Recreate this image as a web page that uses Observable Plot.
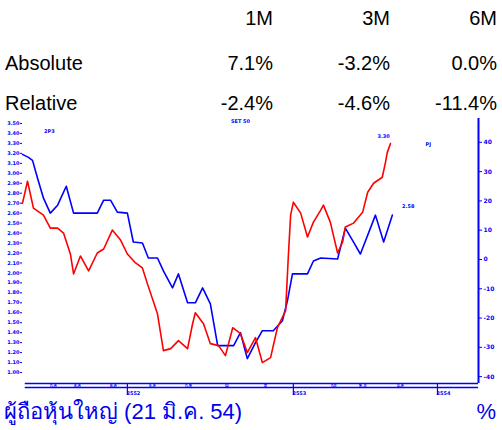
<!DOCTYPE html>
<html><head><meta charset="utf-8">
<script src="https://cdn.jsdelivr.net/npm/d3@7"></script>
<script src="https://cdn.jsdelivr.net/npm/@observablehq/plot@0.6"></script>
<style>
body{margin:0;background:#fff;width:502px;height:430px;overflow:hidden;font-family:"Liberation Sans",Arial,sans-serif;}
#head{position:relative;height:115px;}
#head div{position:absolute;font-size:20px;line-height:22px;color:#000;white-space:nowrap;}
.r{text-align:right;}
#cap{position:relative;height:30px;color:#0000ee;font-size:22px;}
#cap span{position:absolute;top:-1px;line-height:26px;}
</style></head>
<body>
<div id="head"></div>
<div id="chart"></div>
<div id="cap"><span id="capL" style="left:4px"></span><span id="capR" style="right:6px"></span></div>
<script>
// ---- table data ----
const periods = ["1M","3M","6M"];
const rowNames = ["Absolute","Relative"];
const absoluteVals = ["7.1%","-3.2%","0.0%"];
const relativeVals = ["-2.4%","-4.6%","-11.4%"];
// ---- series (x: time index, y: price) ----
const blueX = [0,1.3,2.2,3.3,4.6,6.1,7.7,9.6,11.2,16.4,17.8,19.3,20.8,23.0,24.3,26.3,27.6,29.6,30.9,32.9,34.2,36.2,37.9,39.5,41.2,42.8,46.3,47.8,49.3,51.1,52.6,55.0,57.0,58.1,59.2,62.5,63.8,65.4,69.1,70.8,72.6,74.1,77.4,79.2,81.1];
const blueY = [3.19,3.16,3.13,2.95,2.75,2.60,2.68,2.87,2.60,2.60,2.73,2.73,2.61,2.60,2.31,2.30,2.15,2.15,2.02,1.85,1.99,1.70,1.70,1.85,1.69,1.27,1.27,1.40,1.14,1.30,1.42,1.42,1.52,1.72,1.99,1.99,2.12,2.15,2.14,2.45,2.31,2.19,2.58,2.31,2.58];
const redX = [0,1.1,2.4,4.6,6.1,7.7,9.0,10.5,11.2,12.7,14.5,16.4,17.8,19.7,21.5,23.0,24.8,26.3,27.4,29.6,30.9,32.5,34.2,36.2,37.3,37.9,39.7,41.2,43.0,44.5,46.1,47.8,49.3,51.1,52.6,54.4,55.9,57.7,58.3,58.8,59.4,61.0,62.5,63.8,65.4,66.0,67.5,69.1,70.2,70.8,72.6,74.6,75.7,77.0,78.9,79.6,80.0,80.7];
const redY = [2.70,2.92,2.65,2.58,2.45,2.45,2.40,2.19,1.99,2.17,2.02,2.20,2.24,2.43,2.33,2.19,2.10,2.05,1.89,1.59,1.22,1.24,1.32,1.24,1.49,1.60,1.49,1.29,1.27,1.17,1.45,1.39,1.20,1.35,1.10,1.15,1.45,1.62,2.17,2.58,2.71,2.60,2.36,2.51,2.63,2.68,2.51,2.20,2.31,2.46,2.50,2.61,2.81,2.90,2.96,3.11,3.21,3.30];
// ---- axes ----
const leftTicks = d3.range(1.0, 3.51, 0.1).map(v => +v.toFixed(2));
const rightTickLabels = [-40,-30,-20,-10,0,10,20,30,40];
const rightBase = 2.135, rightStep = 0.0294; // right-axis value -> price scale
const monthTickX = [6.8,12.1,20.0,28.5,36.4,44.9,53.3,68.2,74.6,82.9];
const monthTickLabels = ["ก.ค","ส.ค","ต.ค","ธ.ค","ก.พ","เม","มิ","ก.ย","พ.ย","ม.ค"];
const yearTickX = [23.0,59.4,91.0];
const yearTickLabels = ["2552","2553","2554"];
// ---- small annotations ----
const noteText = ["2P3","SET 50","3.30","2.58","PJ"];
const noteX = [5.9,47.8,79.2,84.6,89.0];
const noteY = [3.42,3.52,3.37,2.67,3.29];

// header
const head = document.getElementById("head");
function put(txt, left, right, cy){
  const d = document.createElement("div");
  d.textContent = txt;
  if (right != null){ d.style.right = (502-right)+"px"; d.className="r"; } else d.style.left = left+"px";
  d.style.top = (cy-11)+"px";
  head.appendChild(d);
}
const colRight = [273, 390, 497];
periods.forEach((p,i)=>put(p,null,colRight[i],18));
put(rowNames[0],5,null,63);
put(rowNames[1],5,null,103);
absoluteVals.forEach((v,i)=>put(v,null,colRight[i],63));
relativeVals.forEach((v,i)=>put(v,null,colRight[i],103));

document.getElementById("capL").textContent = "ผู้ถือหุ้นใหญ่ (21 มิ.ค. 54)";
document.getElementById("capR").textContent = "%";

const blue = "#0000ff", red = "#ff0000";
const blueData = blueX.map((x,i)=>({x, y: blueY[i]}));
const redData = redX.map((x,i)=>({x, y: redY[i]}));
const yMin = 0.89, yMax = 3.55;
const H = 285, mT = 3, mB = 17;
const perPx = (yMax - yMin) / (H - mT - mB);
const rightTicks = rightTickLabels.map(r => rightBase + r*rightStep);
const months = monthTickX.map((x,i)=>({x, label: monthTickLabels[i]}));
const years = yearTickX.map((x,i)=>({x, label: yearTickLabels[i]}));
const notes = noteText.map((t,i)=>({t, x: noteX[i], y: noteY[i]}));

const plot = Plot.plot({
  width: 502, height: H,
  marginLeft: 22, marginRight: 24, marginTop: mT, marginBottom: mB,
  style: {background: "#fff", fontFamily: "DejaVu Sans, sans-serif"},
  x: {domain: [0, 100], axis: null},
  y: {domain: [yMin, yMax], axis: null},
  marks: [
    Plot.axisY({ticks: leftTicks, anchor: "left", label: null, tickSize: 2, tickPadding: 1, tickFormat: d3.format(".2f"), fontSize: 5, fontWeight: "bold", fill: blue, stroke: blue, color: blue}),
    Plot.axisY({ticks: rightTicks, anchor: "right", label: null, tickSize: 3, tickPadding: 2, tickFormat: (d,i) => String(rightTickLabels[i]), fontSize: 6, fontWeight: "bold", fill: blue, stroke: blue, color: blue}),
    Plot.ruleX([100], {y1: yMin, y2: yMax, stroke: blue, strokeWidth: 2}),
    Plot.ruleY([yMin], {x1: 0.6, x2: 100, stroke: blue, strokeWidth: 1.5}),
    Plot.ruleY([yMin], {x1: 0.6, x2: 100, stroke: blue, strokeWidth: 1.5, dy: 4}),
    Plot.text(months, {x: "x", y: () => yMin, text: "label", dy: 2, fontSize: 4, fill: blue, fontWeight: "bold"}),
    Plot.ruleX(years, {x: "x", y1: () => yMin, y2: () => yMin - 12*perPx, stroke: blue, strokeWidth: 1.2}),
    Plot.text(years, {x: "x", y: () => yMin, text: "label", dy: 10, dx: 6, fontSize: 5, fill: blue, fontWeight: "bold"}),
    Plot.line(blueData, {x: "x", y: "y", stroke: blue, strokeWidth: 1.6}),
    Plot.line(redData, {x: "x", y: "y", stroke: red, strokeWidth: 1.6}),
    Plot.text(notes, {x: "x", y: "y", text: "t", fontSize: 5, fill: blue, fontWeight: "bold"})
  ]
});
document.getElementById("chart").appendChild(plot);
</script>
</body></html>
